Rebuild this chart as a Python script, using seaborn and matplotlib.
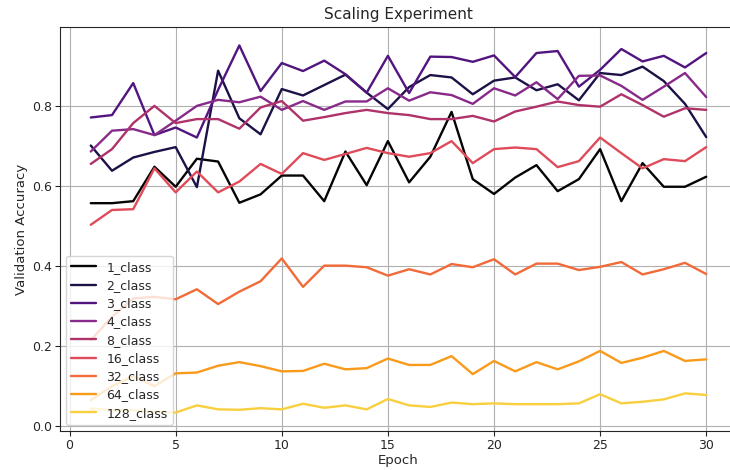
import matplotlib
matplotlib.use("Agg")
import matplotlib.pyplot as plt
import seaborn as sns
import numpy as np

epochs = list(range(1, 31))

class_names = ["1_class", "2_class", "3_class", "4_class", "8_class",
               "16_class", "32_class", "64_class", "128_class"]

acc_1 = [0.557, 0.557, 0.562, 0.648, 0.598, 0.668, 0.661, 0.558, 0.579, 0.626,
         0.626, 0.562, 0.686, 0.602, 0.712, 0.609, 0.673, 0.785, 0.617, 0.580,
         0.621, 0.652, 0.587, 0.617, 0.692, 0.562, 0.657, 0.598, 0.598, 0.623]
acc_2 = [0.701, 0.638, 0.671, 0.685, 0.697, 0.597, 0.888, 0.769, 0.729, 0.842,
         0.826, 0.852, 0.878, 0.833, 0.792, 0.847, 0.877, 0.871, 0.829, 0.863,
         0.871, 0.839, 0.854, 0.814, 0.882, 0.877, 0.898, 0.862, 0.805, 0.722]
acc_3 = [0.771, 0.777, 0.857, 0.727, 0.746, 0.721, 0.840, 0.951, 0.837, 0.907,
         0.887, 0.913, 0.879, 0.833, 0.925, 0.832, 0.923, 0.922, 0.910, 0.926,
         0.872, 0.932, 0.937, 0.848, 0.890, 0.942, 0.911, 0.925, 0.896, 0.932]
acc_4 = [0.686, 0.738, 0.742, 0.727, 0.763, 0.800, 0.815, 0.809, 0.823, 0.790,
         0.812, 0.790, 0.811, 0.811, 0.844, 0.813, 0.834, 0.827, 0.805, 0.844,
         0.826, 0.859, 0.817, 0.875, 0.876, 0.850, 0.815, 0.848, 0.882, 0.822]
acc_8 = [0.655, 0.692, 0.757, 0.800, 0.757, 0.767, 0.767, 0.743, 0.796, 0.812,
         0.763, 0.772, 0.782, 0.790, 0.782, 0.777, 0.767, 0.767, 0.775, 0.761,
         0.786, 0.798, 0.811, 0.802, 0.798, 0.829, 0.802, 0.773, 0.794, 0.790]
acc_16 = [0.503, 0.540, 0.542, 0.644, 0.584, 0.636, 0.584, 0.611, 0.655, 0.630,
          0.682, 0.665, 0.680, 0.695, 0.682, 0.673, 0.682, 0.712, 0.657, 0.692,
          0.696, 0.692, 0.647, 0.662, 0.721, 0.682, 0.644, 0.667, 0.662, 0.697]
acc_32 = [0.215, 0.273, 0.319, 0.323, 0.317, 0.342, 0.305, 0.336, 0.362, 0.419,
          0.348, 0.401, 0.401, 0.397, 0.376, 0.392, 0.379, 0.405, 0.397, 0.417,
          0.379, 0.406, 0.406, 0.390, 0.398, 0.410, 0.379, 0.392, 0.408, 0.380]
acc_64 = [0.065, 0.100, 0.125, 0.100, 0.132, 0.134, 0.151, 0.160, 0.150, 0.137,
          0.138, 0.156, 0.142, 0.145, 0.169, 0.153, 0.153, 0.175, 0.130, 0.163,
          0.137, 0.160, 0.142, 0.162, 0.188, 0.158, 0.171, 0.188, 0.163, 0.167]
acc_128 = [0.044, 0.040, 0.040, 0.036, 0.034, 0.052, 0.042, 0.041, 0.045, 0.042,
           0.056, 0.046, 0.052, 0.042, 0.068, 0.052, 0.048, 0.059, 0.055, 0.057,
           0.055, 0.055, 0.055, 0.057, 0.080, 0.057, 0.061, 0.067, 0.082, 0.078]

series = [acc_1, acc_2, acc_3, acc_4, acc_8, acc_16, acc_32, acc_64, acc_128]

line_colors = ["#050505", "#1d1147", "#52157f", "#872a8a", "#b0326a",
               "#e04b5a", "#f26a38", "#f99a1a", "#f8cf3e"]

sns.set_style("ticks")
plt.rcParams["font.family"] = ["DejaVu Sans"]

fig = plt.figure(figsize=(7.3, 4.7), dpi=100)
ax = fig.add_axes([60 / 730, 1 - 431 / 470, (737 - 60) / 730, (431 - 27) / 470])

for name, vals, col in zip(class_names, series, line_colors):
    sns.lineplot(x=epochs, y=vals, ax=ax, color=col, label=name, linewidth=1.7)

ax.grid(True, color="#b0b0b0", linewidth=0.8)
ax.set_axisbelow(True)
ax.spines["right"].set_visible(False)
ax.set_xticks([0, 5, 10, 15, 20, 25, 30])
ax.set_yticks([0.0, 0.2, 0.4, 0.6, 0.8])
ax.set_xlim(-0.45, 31.45)
ax.set_ylim(-0.012, 0.997)
ax.tick_params(labelsize=9, pad=2.5)
ax.set_xlabel("Epoch", fontsize=9.5, labelpad=1.5)
ax.set_ylabel("Validation Accuracy", fontsize=9.5, labelpad=3)
ax.set_title("Scaling Experiment", fontsize=11)
ax.legend(loc="lower left", fontsize=9, framealpha=0.8, handlelength=2.0,
          labelspacing=0.42)

fig.savefig("out.png", dpi=100)
